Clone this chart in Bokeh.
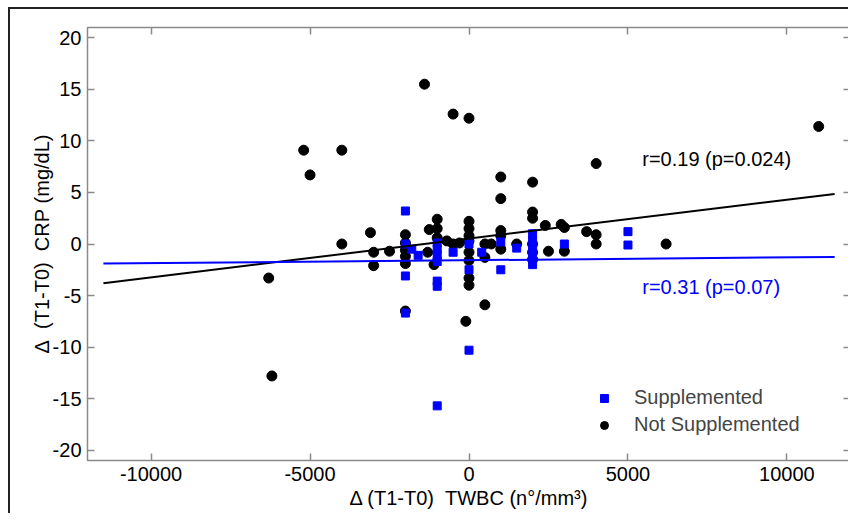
from bokeh.plotting import figure
from bokeh.layouts import column
from bokeh.models import LinearAxis, Range1d, Legend, LegendItem, FixedTicker, Label
from bokeh.embed import file_html
from bokeh.resources import INLINE

# ---------------- data ----------------
# Supplemented (blue squares)
sup_x = [-2000, -2000, -2000, -2000, -1800, -1600,
         -1000, -1000, -1000, -1000, -1000, -1000, -1000,
         -500, 0, 0, 0, 400, 1000, 1000, 1500,
         2000, 2000, 2000, 2000, 2000, 3000, 5000, 5000]
sup_y = [3.2, 0.0, -3.1, -6.7, -0.5, -1.1,
         0.1, -0.5, -1.1, -1.7, -3.6, -4.1, -15.7,
         -0.8, 0.0, -2.5, -10.3, -0.8, 0.2, -2.5, -0.4,
         1.0, 0.3, -0.5, -1.3, -2.0, 0.0, 1.2, -0.1]

# Not supplemented (black circles)
nsup_x = [-1400, -500, 0, 11000, -5200, -4000, -5000, 4000,
          1000, 1000, 2000, 2000, 2000, 0, -1000, 2400, 2900, 3000,
          -3100, -4000, -2000, -1250, -1000, 0, 0, 0,
          1000, 1000, 1000, 3700, 4000, 4000, 6200,
          -6300, -6200, 500, -100, -2000, 0, 0, 0, 0,
          -3000, -3000, -2500, -2000, -2000, -2000, -2000,
          -1300, -1100, -1000, -700, -500, -300,
          500, 700, 500, 1500, 2000, 2000, 2000, 2500, 3000]
nsup_y = [15.5, 12.6, 12.2, 11.4, 9.1, 9.1, 6.7, 7.8,
          6.5, 4.4, 6.0, 3.1, 2.5, 2.2, 2.4, 1.8, 1.9, 1.6,
          1.1, 0.0, 0.9, 1.4, 1.5, 1.5, 0.8, 0.3,
          1.3, 0.8, -0.5, 1.2, 0.9, 0.0, 0.0,
          -3.3, -12.8, -5.9, -7.5, -6.5, -3.3, -4.0, -0.8, -1.6,
          -0.8, -2.1, -0.7, 0.1, -0.6, -1.2, -1.9,
          -0.8, -2.0, 0.6, 0.3, 0.0, 0.1,
          0.0, 0.0, -1.3, 0.0, 0.0, -0.8, -1.5, -0.7, -0.7]

# regression lines (end points of the fitted lines)
fit_x = [-11500, 11500]
fit_not_sup = [-3.8, 4.85]
fit_sup = [-1.9, -1.25]

x_ticks = [-10000, -5000, 0, 5000, 10000]
y_ticks = [-20, -15, -10, -5, 0, 5, 10, 15, 20]

FONT = "Liberation Sans"
GRAY = "#8a8a8a"
NB = "\u00a0"

p = figure(width=840, height=506, output_backend="svg", toolbar_location=None,
           x_range=Range1d(-12000, 12000), y_range=Range1d(-21, 21),
           min_border_left=77, min_border_right=0, min_border_top=18,
           min_border_bottom=55, margin=(7, 0, 0, 8),
           x_axis_label="Δ (T1-T0)" + NB + NB + "TWBC (n°/mm³)",
           y_axis_label="Δ" + NB + NB + "(T1-T0)" + NB + NB + "CRP" + NB + "(mg/dL)")
p.styles = {"border-left": "2px solid #222", "border-top": "2px solid #222"}

p.xgrid.visible = False
p.ygrid.visible = False
p.outline_line_color = GRAY
p.outline_line_width = 1.5
p.background_fill_color = "white"
p.border_fill_color = "white"

bottom_ax = p.below[0]
left_ax = p.left[0]
bottom_ax.ticker = FixedTicker(ticks=x_ticks)
left_ax.ticker = FixedTicker(ticks=y_ticks)
bottom_ax.major_label_overrides = {t: str(t) for t in x_ticks}
left_ax.major_label_overrides = {t: str(t) for t in y_ticks}

top_ax = LinearAxis(ticker=FixedTicker(ticks=x_ticks))
right_ax = LinearAxis(ticker=FixedTicker(ticks=y_ticks))
p.add_layout(top_ax, "above")
p.add_layout(right_ax, "right")
for ax in (top_ax, right_ax):
    ax.major_label_text_font_size = "0px"
    ax.major_label_text_color = None
    ax.major_label_standoff = 0

for ax in (bottom_ax, left_ax, top_ax, right_ax):
    ax.axis_line_color = None
    ax.major_tick_in = 7
    ax.major_tick_out = 0
    ax.major_tick_line_color = GRAY
    ax.major_tick_line_width = 1.5
    ax.minor_tick_line_color = None

for ax in (bottom_ax, left_ax):
    ax.major_label_text_font = FONT
    ax.axis_label_text_font = FONT
    ax.axis_label_text_font_style = "normal"
    ax.axis_label_text_color = "black"
    ax.major_label_text_color = "black"
    ax.major_label_text_font_size = "20px"
    ax.axis_label_text_font_size = "20px"

bottom_ax.major_label_standoff = 6
bottom_ax.axis_label_standoff = 3
left_ax.major_label_standoff = 6
left_ax.axis_label_standoff = -3

r_ns = p.scatter(nsup_x, nsup_y, marker="circle", size=10,
                 fill_color="black", line_color="black")
r_s = p.scatter(sup_x, sup_y, marker="square", size=8,
                fill_color="blue", line_color="blue")

p.line(fit_x, fit_not_sup, line_color="black", line_width=2)
p.line(fit_x, fit_sup, line_color="blue", line_width=2)

p.add_layout(Label(x=5450, y=8.2, text="r=0.19 (p=0.024)", text_font=FONT,
                   text_font_size="20px", text_baseline="middle",
                   text_color="black"))
p.add_layout(Label(x=5450, y=-4.2, text="r=0.31 (p=0.07)", text_font=FONT,
                   text_font_size="20px", text_baseline="middle",
                   text_color="blue"))

legend = Legend(items=[LegendItem(label="Supplemented", renderers=[r_s]),
                       LegendItem(label="Not Supplemented", renderers=[r_ns])],
                location=(507, 24), padding=0, margin=0, spacing=4,
                glyph_width=20, glyph_height=20, label_height=20,
                label_standoff=20, border_line_alpha=0,
                background_fill_alpha=0, label_text_font=FONT,
                label_text_font_size="20px")
p.add_layout(legend)

root = column(p)
open("out.html", "w").write(file_html(root, INLINE))
